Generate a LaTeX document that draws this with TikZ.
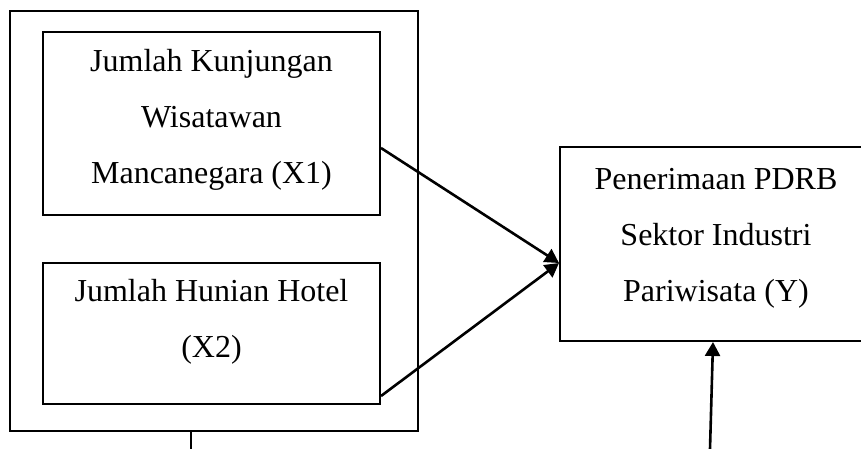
\documentclass[tikz,border=0pt]{standalone}
\usepackage{fontspec}
\setmainfont{Liberation Serif}
\usetikzlibrary{arrows.meta,positioning,calc}

\begin{document}
\begin{tikzpicture}[x=0.5pt, y=-0.5pt,
    font=\fontsize{16pt}{28pt}\selectfont,
    box/.style={draw, line width=1pt, inner sep=0pt},
    txt/.style={align=center, inner sep=0pt},
    arr/.style={line width=1.3pt, -{Triangle[length=7pt,width=7.5pt]}}]
    \clip (0,0) rectangle (861,449);
    % boxes
    \node[box, minimum width=204pt, minimum height=210pt] (outer) at (214,221) {};
    \node[box, minimum width=168.5pt, minimum height=91.5pt] (xone) at (211.5,123.5) {};
    \node[box, minimum width=168.5pt, minimum height=70.5pt] (xtwo) at (211.5,333.5) {};
    \node[box, minimum width=156pt, minimum height=97pt] (yvar) at (716,244) {};
    % texts
    \node[txt] (xonetxt) at (211.5,120) {Jumlah Kunjungan\\Wisatawan\\Mancanegara (X1)};
    \node[txt] (xtwotxt) at (211.5,322) {Jumlah Hunian Hotel\\(X2)};
    \node[txt] (yvartxt) at (716,238) {Penerimaan PDRB\\Sektor Industri\\Pariwisata (Y)};
    % connectors
    \coordinate (foot) at (191,449);
    \coordinate (err) at (710,449);
    \draw[arr] ([yshift=-12.25pt]xone.east) -- ([yshift=-9.5pt]yvar.west);
    \draw[arr] ([yshift=4.5pt]xtwo.south east) -- ([yshift=-9.5pt]yvar.west);
    \draw[arr] (err) -- ([xshift=-1.5pt]yvar.south);
    \draw[line width=1pt] ([xshift=-11.5pt]outer.south) -- (foot);
\end{tikzpicture}
\end{document}
